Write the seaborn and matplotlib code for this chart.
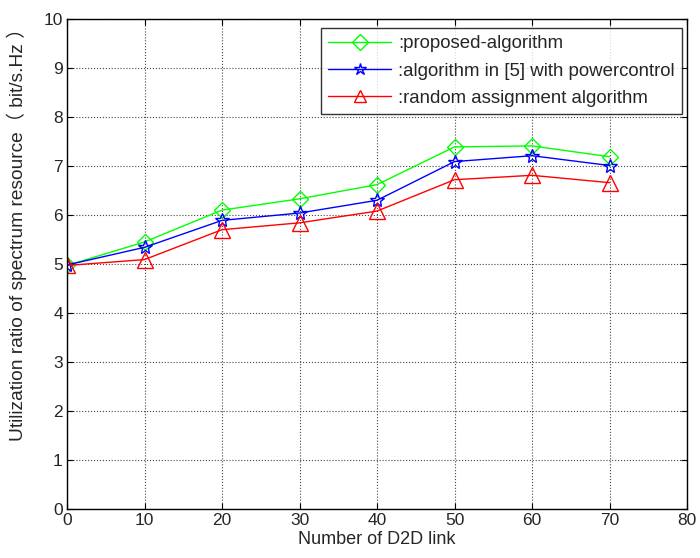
import matplotlib
matplotlib.use('Agg')
import matplotlib.pyplot as plt
import seaborn as sns
import pandas as pd

# data
links = [0, 10, 20, 30, 40, 50, 60, 70]
proposed = [4.97, 5.45, 6.10, 6.33, 6.62, 7.39, 7.41, 7.19]
powercontrol = [4.98, 5.34, 5.89, 6.04, 6.30, 7.09, 7.21, 7.01]
random_assign = [4.97, 5.09, 5.70, 5.84, 6.08, 6.72, 6.81, 6.66]

labels = [':proposed-algorithm',
          ':algorithm in [5] with powercontrol',
          ':random assignment algorithm']
colors = ['#00ff00', '#0000ff', '#ff0000']

df = pd.DataFrame({
    'links': links * 3,
    'ratio': proposed + powercontrol + random_assign,
    'series': [labels[0]] * 8 + [labels[1]] * 8 + [labels[2]] * 8,
})

sns.set_style('white')
plt.rcParams['font.family'] = ['Liberation Sans', 'Noto Sans CJK SC', 'DejaVu Sans']

fig = plt.figure(figsize=(7, 5.58), dpi=100)
ax = fig.add_axes([67 / 700, 49 / 558, 620 / 700, 490 / 558])

sns.lineplot(
    data=df, x='links', y='ratio', hue='series', style='series',
    palette=colors, markers=['D', '*', '^'], dashes=False,
    markersize=10, linewidth=1, legend=False, ax=ax,
)
# hollow markers with coloured edges
lines = ax.get_lines()[:3]
for line, c in zip(lines, colors):
    line.set_markeredgecolor(c)
    line.set_markerfacecolor('none')
    line.set_markeredgewidth(1)
lines[0].set_markersize(8.5)
lines[2].set_markersize(12)

ax.set_xlim(0, 80)
ax.set_ylim(0, 10)
ax.set_xticks(range(0, 81, 10))
ax.set_yticks(range(0, 11))
ax.grid(True, color='#444444', linestyle=':', linewidth=0.8)
for s in ax.spines.values():
    s.set_color('black')
    s.set_linewidth(1)
ax.tick_params(direction='in', length=4, color='black', labelsize=12.5, pad=3,
               top=True, right=True, bottom=True, left=True)

ax.set_xlabel('Number of D2D link', fontsize=13, labelpad=2)
ax.set_ylabel('Utilization ratio of spectrum resource（ bit/s.Hz ）', fontsize=13.8)
ax.yaxis.set_label_coords(-0.064, 0.57)

leg = ax.legend(lines, labels, loc='upper right', bbox_to_anchor=(0.992, 0.982),
                borderaxespad=0, fontsize=13.4, frameon=True, fancybox=False,
                edgecolor='black', handlelength=3.4, borderpad=0.4,
                labelspacing=0.55, handletextpad=0.35)
leg.get_frame().set_linewidth(1)
for h in leg.legend_handles:
    h.set_markersize(min(h.get_markersize(), 9))

plt.savefig('out.png', dpi=100)
